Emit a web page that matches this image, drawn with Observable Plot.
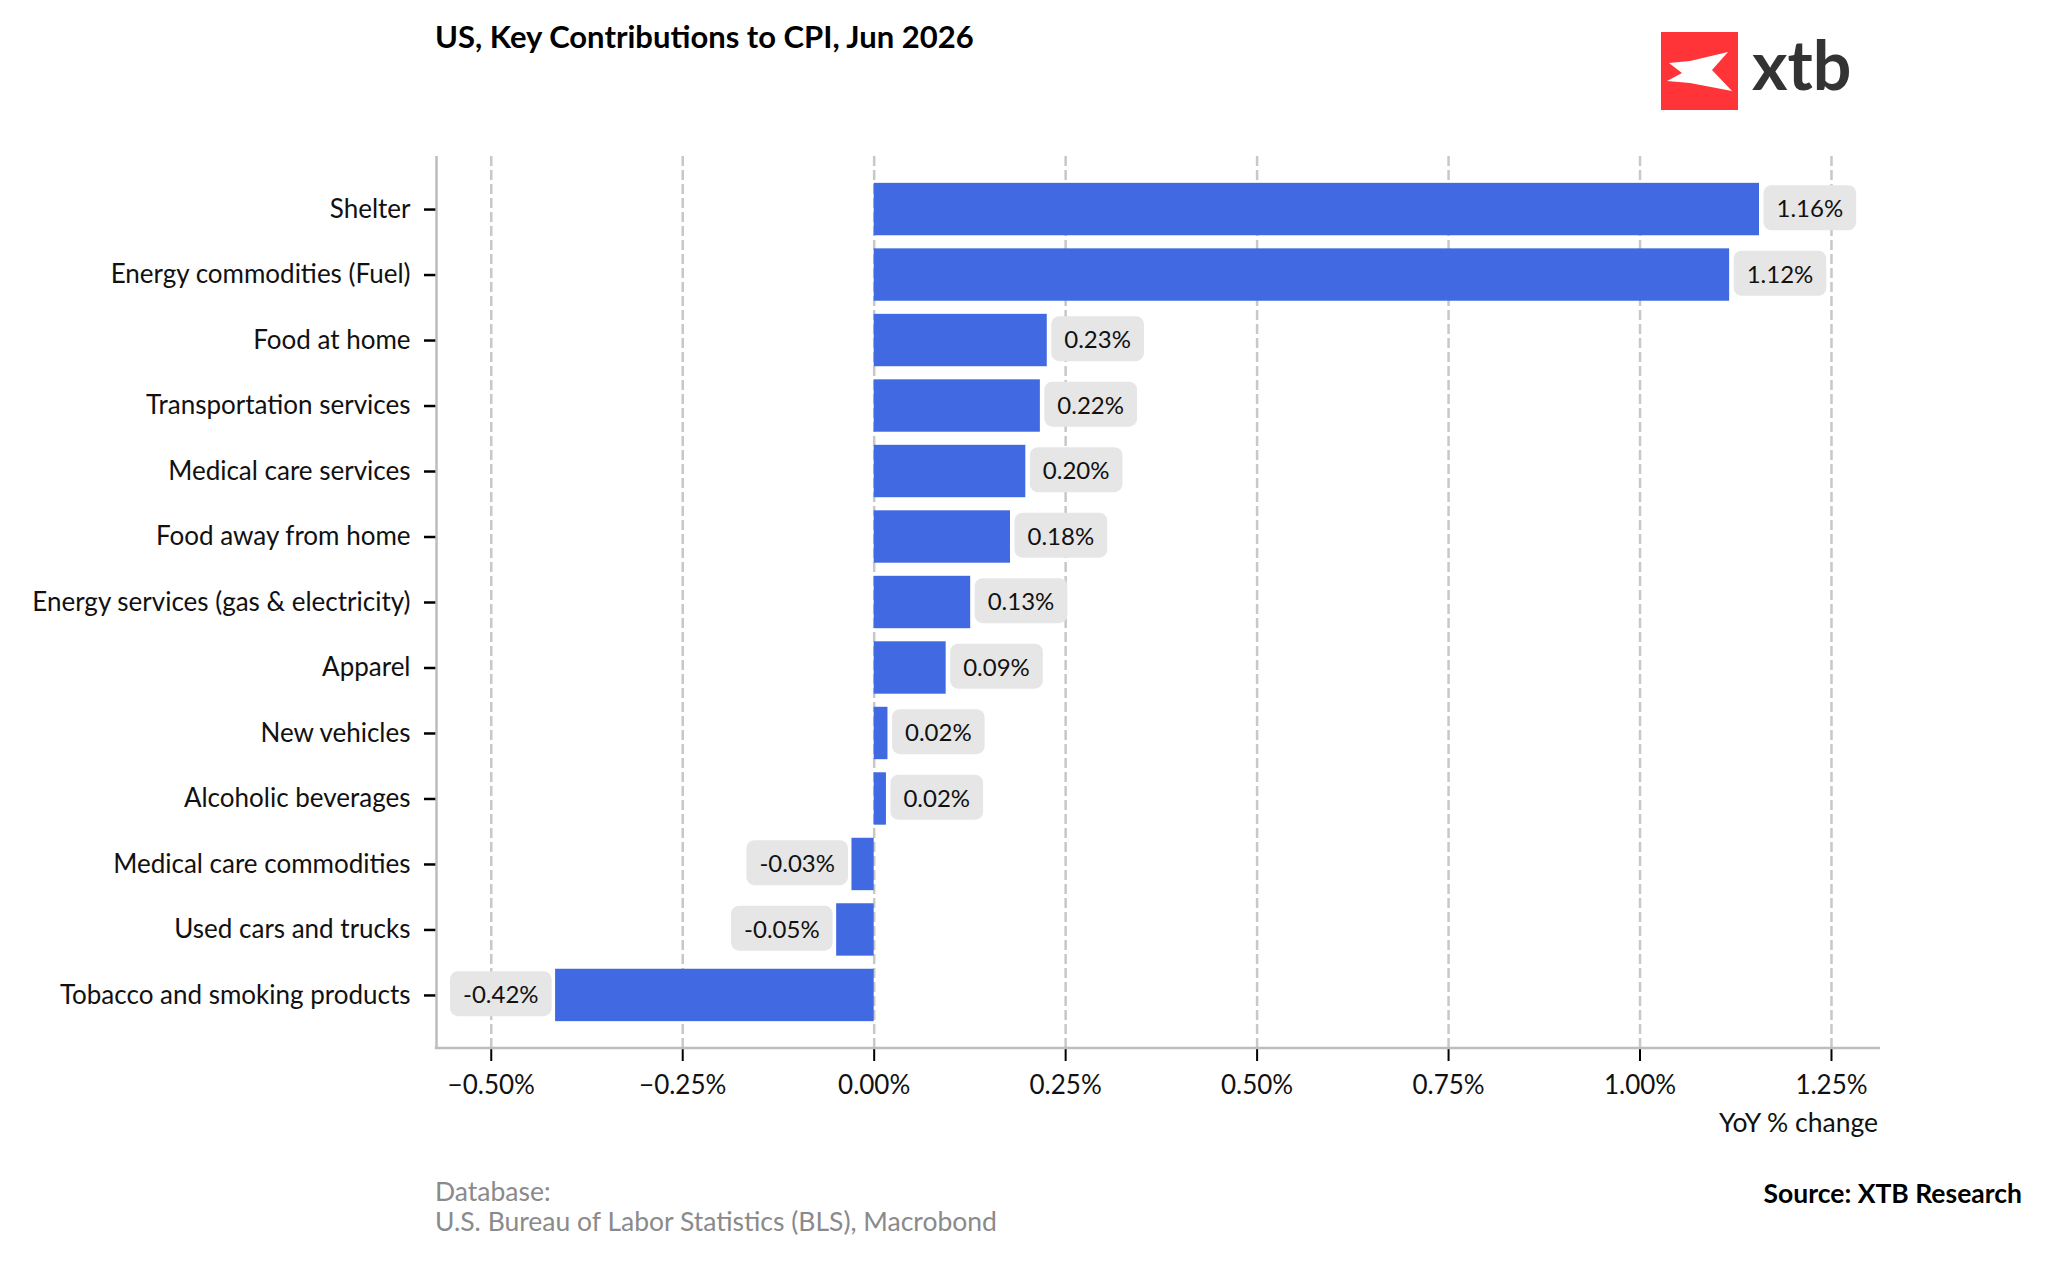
<!DOCTYPE html>
<html><head><meta charset="utf-8">
<script src="https://cdn.jsdelivr.net/npm/d3@7"></script>
<script src="https://cdn.jsdelivr.net/npm/@observablehq/plot@0.6"></script>
<style>
html,body{margin:0;padding:0;background:#fff;}
#chart{position:relative;width:2048px;height:1261px;}
</style></head><body><div id="chart"></div>
<script>
const categories = [
  "Shelter",
  "Energy commodities (Fuel)",
  "Food at home",
  "Transportation services",
  "Medical care services",
  "Food away from home",
  "Energy services (gas & electricity)",
  "Apparel",
  "New vehicles",
  "Alcoholic beverages",
  "Medical care commodities",
  "Used cars and trucks",
  "Tobacco and smoking products"
];
const values = [1.156, 1.117, 0.226, 0.217, 0.198, 0.178, 0.126, 0.094, 0.018, 0.016, -0.029, -0.049, -0.416];
const xTicks = [-0.5, -0.25, 0, 0.25, 0.5, 0.75, 1, 1.25];
const xDomain = [-0.5715, 1.314];
const titleText = "US, Key Contributions to CPI, Jun 2026";
const xLabelText = "YoY % change";
const dbLines = ["Database:", "U.S. Bureau of Labor Statistics (BLS), Macrobond"];
const sourceText = "Source: XTB Research";
const logoText = "xtb";

const data = categories.map((c, i) => ({category: c, value: values[i]}));
const FONT = "Lato, 'Open Sans', sans-serif";
const fmtTick = d => d3.format(".2f")(d) + "%";
const fmtVal = d => d.value.toFixed(2) + "%";

const plot = Plot.plot({
  width: 2048, height: 1261,
  marginLeft: 436, marginRight: 168, marginTop: 156, marginBottom: 213,
  style: {fontFamily: FONT, fontSize: "26px", color: "#111", background: "#fff"},
  x: {domain: xDomain, ticks: xTicks, tickFormat: fmtTick, label: null},
  y: {domain: categories, paddingInner: 0.2, paddingOuter: 0.41, round: false, label: null},
  marks: [
    Plot.gridX(xTicks, {stroke: "#c8c8c8", strokeOpacity: 1, strokeWidth: 2.5, strokeDasharray: "10,4"}),
    Plot.barX(data, {x: "value", y: "category", fill: "#4169E1"}),
    Plot.axisX({ticks: xTicks, tickFormat: fmtTick, tickSize: 13, tickPadding: 14, stroke: "#000", strokeWidth: 2, label: null}),
    Plot.axisY({tickSize: 12, tickPadding: 14, stroke: "#000", strokeWidth: 2.5, label: null}),
    Plot.ruleX([xDomain[0]], {stroke: "#bdbdbd", strokeWidth: 2.5}),
    Plot.text(data.filter(d => d.value >= 0), {x: "value", y: "category", text: fmtVal, textAnchor: "start", dx: 17, fill: "#111", fontSize: 24}),
    Plot.text(data.filter(d => d.value < 0), {x: "value", y: "category", text: fmtVal, textAnchor: "end", dx: -17, fill: "#111", fontSize: 24})
  ]
});
document.getElementById("chart").appendChild(plot);

const svg = d3.select(plot);
const xs = plot.scale("x"), ys = plot.scale("y");
// bottom axis line
svg.append("line")
  .attr("x1", xs.apply(xDomain[0]) - 1.25).attr("x2", xs.apply(xDomain[1]))
  .attr("y1", ys.range[1]).attr("y2", ys.range[1])
  .attr("stroke", "#bdbdbd").attr("stroke-width", 2.5);

// value label boxes
plot.querySelectorAll('g[aria-label="text"] text').forEach(t => {
  const bb = t.getBBox();
  const r = document.createElementNS("http://www.w3.org/2000/svg", "rect");
  const padX = 13, h = 45;
  r.setAttribute("x", bb.x - padX);
  r.setAttribute("width", bb.width + 2 * padX);
  r.setAttribute("y", bb.y + bb.height / 2 - h / 2);
  r.setAttribute("height", h);
  r.setAttribute("rx", 8);
  r.setAttribute("fill", "#e6e6e6");
  if (t.getAttribute("transform")) r.setAttribute("transform", t.getAttribute("transform"));
  t.parentNode.insertBefore(r, t);
});

const addText = (x, y, s, o = {}) => svg.append("text")
  .attr("x", x).attr("y", y)
  .attr("text-anchor", o.anchor || "start")
  .attr("font-family", o.family || FONT)
  .attr("font-weight", o.weight || 400)
  .attr("font-size", o.size || 26.5)
  .attr("fill", o.fill || "#111")
  .text(s);

addText(435, 48, titleText, {weight: 700, size: 31, fill: "#000"});
addText(1878, 1132, xLabelText, {anchor: "end"});
dbLines.forEach((s, i) => addText(435, 1201 + i * 30, s, {fill: "#8a8a8a"}));
addText(2022, 1203, sourceText, {anchor: "end", weight: 700, fill: "#000"});

// logo
const logo = svg.append("g");
logo.append("rect").attr("x", 1661).attr("y", 32).attr("width", 77).attr("height", 78).attr("fill", "#ff3439");
logo.append("polygon")
  .attr("points", "1669,63 1690,61 1728,52 1712,70 1732,91 1690,83 1667,81 1682,73")
  .attr("fill", "#fff");
addText(1752, 90, logoText, {family: "Lato, Inter, sans-serif", weight: 700, size: 68, fill: "#333"});
</script></body></html>
